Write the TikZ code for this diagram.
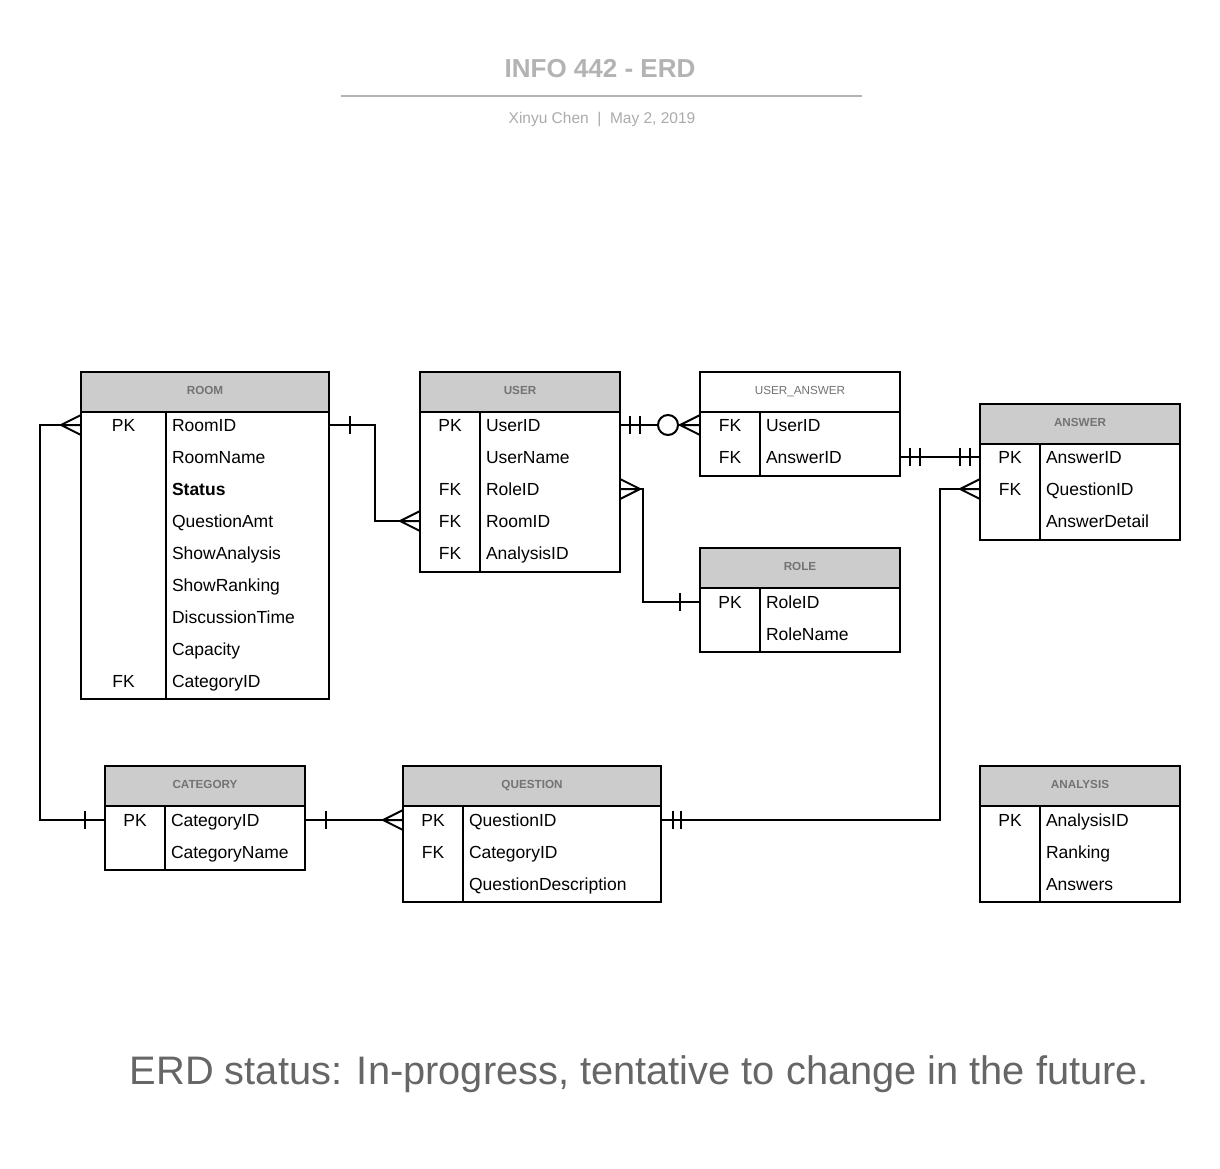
\documentclass[tikz,border=0pt]{standalone}
\usepackage{fontspec}
\setmainfont{Liberation Sans}
\usetikzlibrary{calc}
\definecolor{hdrgray}{HTML}{CCCCCC}
\definecolor{hdrtext}{HTML}{737373}
\definecolor{titlegray}{HTML}{B3B3B3}
\definecolor{subgray}{HTML}{ABABAB}
\definecolor{notegray}{HTML}{666666}
\newcommand\erdrow[7]{%
  \node[keytxt] (#1-k#2) at (#3,#5) {#6};
  \node[fldtxt] (#1-f#2) at (#4,#5) {#7};}
\begin{document}
\begin{tikzpicture}[x=1pt,y=-1pt,
  line width=2pt,
  hdr/.style={draw, fill=hdrgray, minimum height=40pt, anchor=north west, outer sep=0pt, inner sep=0pt, text=hdrtext, font=\fontsize{11.7}{12}\selectfont\bfseries, text height=8.4pt, text depth=3pt},
  hdrplain/.style={hdr, fill=white, font=\fontsize{11.7}{12}\selectfont},
  body/.style={draw, anchor=north west, outer sep=0pt, inner sep=0pt},
  keytxt/.style={inner sep=0pt, anchor=center, font=\fontsize{17.5}{20}\selectfont, text height=12.5pt, text depth=0pt},
  fldtxt/.style={keytxt, anchor=west},
  conn/.style={line width=2pt},
  crow/.pic={\draw[line width=2pt] (0,0) -- (20,-10) (0,0) -- (20,0) (0,0) -- (20,10);},
  bar/.pic={\draw[line width=2pt] (0,-9) -- (0,9);},
  ring/.pic={\draw[line width=2pt, fill=white] (0,0) circle [radius=10pt];}
]
\fill[white] (0,0) rectangle (1220,1169);
\useasboundingbox (0,0) rectangle (1220,1169);

% title
\node[font=\fontsize{26}{30}\selectfont\bfseries, text=titlegray, inner sep=0pt, text height=18.6pt, text depth=0pt] (title) at (600,68) {INFO 442 - ERD};
\draw[titlegray, line width=2pt] (341,96) -- (862,96);
\node[font=\fontsize{15.5}{18}\selectfont, text=subgray, inner sep=0pt, text height=11.1pt, text depth=0pt] (sub) at (602,118) {Xinyu Chen\ \ |\ \ May 2, 2019};

% ROOM
\node[hdr, minimum width=248pt] (room-h) at (81,372) {ROOM};
\node[body, minimum width=248pt, minimum height=287pt] (room) at (81,412) {};
\draw (166,412) -- (166,699);
\erdrow{room}{1}{123.5}{171}{425}{PK}{RoomID}
\erdrow{room}{2}{123.5}{171}{457}{}{RoomName}
\erdrow{room}{3}{123.5}{171}{489}{}{\bfseries Status}
\erdrow{room}{4}{123.5}{171}{521}{}{QuestionAmt}
\erdrow{room}{5}{123.5}{171}{553}{}{ShowAnalysis}
\erdrow{room}{6}{123.5}{171}{585}{}{ShowRanking}
\erdrow{room}{7}{123.5}{171}{617}{}{DiscussionTime}
\erdrow{room}{8}{123.5}{171}{649}{}{Capacity}
\erdrow{room}{9}{123.5}{171}{681}{FK}{CategoryID}

% USER
\node[hdr, minimum width=200pt] (user-h) at (420,372) {USER};
\node[body, minimum width=200pt, minimum height=160pt] (user) at (420,412) {};
\draw (480,412) -- (480,572);
\erdrow{user}{1}{450}{485}{425}{PK}{UserID}
\erdrow{user}{2}{450}{485}{457}{}{UserName}
\erdrow{user}{3}{450}{485}{489}{FK}{RoleID}
\erdrow{user}{4}{450}{485}{521}{FK}{RoomID}
\erdrow{user}{5}{450}{485}{553}{FK}{AnalysisID}

% USER_ANSWER
\node[hdrplain, minimum width=200pt] (ua-h) at (700,372) {USER\_ANSWER};
\node[body, minimum width=200pt, minimum height=64pt] (ua) at (700,412) {};
\draw (760,412) -- (760,476);
\erdrow{ua}{1}{730}{765}{425}{FK}{UserID}
\erdrow{ua}{2}{730}{765}{457}{FK}{AnswerID}

% ANSWER
\node[hdr, minimum width=200pt] (ans-h) at (980,404) {ANSWER};
\node[body, minimum width=200pt, minimum height=96pt] (ans) at (980,444) {};
\draw (1040,444) -- (1040,540);
\erdrow{ans}{1}{1010}{1045}{457}{PK}{AnswerID}
\erdrow{ans}{2}{1010}{1045}{489}{FK}{QuestionID}
\erdrow{ans}{3}{1010}{1045}{521}{}{AnswerDetail}

% ROLE
\node[hdr, minimum width=200pt] (role-h) at (700,548) {ROLE};
\node[body, minimum width=200pt, minimum height=64pt] (role) at (700,588) {};
\draw (760,588) -- (760,652);
\erdrow{role}{1}{730}{765}{602}{PK}{RoleID}
\erdrow{role}{2}{730}{765}{634}{}{RoleName}

% CATEGORY
\node[hdr, minimum width=200pt] (cat-h) at (105,766) {CATEGORY};
\node[body, minimum width=200pt, minimum height=64pt] (cat) at (105,806) {};
\draw (165,806) -- (165,870);
\erdrow{cat}{1}{135}{170}{820}{PK}{CategoryID}
\erdrow{cat}{2}{135}{170}{852}{}{CategoryName}

% QUESTION
\node[hdr, minimum width=258pt] (q-h) at (403,766) {QUESTION};
\node[body, minimum width=258pt, minimum height=96pt] (q) at (403,806) {};
\draw (463,806) -- (463,902);
\erdrow{q}{1}{433}{468}{820}{PK}{QuestionID}
\erdrow{q}{2}{433}{468}{852}{FK}{CategoryID}
\erdrow{q}{3}{433}{468}{884}{}{QuestionDescription}

% ANALYSIS
\node[hdr, minimum width=200pt] (an-h) at (980,766) {ANALYSIS};
\node[body, minimum width=200pt, minimum height=96pt] (an) at (980,806) {};
\draw (1040,806) -- (1040,902);
\erdrow{an}{1}{1010}{1045}{820}{PK}{AnalysisID}
\erdrow{an}{2}{1010}{1045}{852}{}{Ranking}
\erdrow{an}{3}{1010}{1045}{884}{}{Answers}

% connectors
% ROOM -> USER
\draw[conn] (room.east |- room-k1) -- ++(46,0) |- (user.west |- user-k4);
\pic at ($(room.east |- room-k1)+(21,0)$) {bar};
\pic at ($(user.west |- user-k4)+(-20,0)$) {crow};
% USER -> USER_ANSWER
\draw[conn] (user.east |- user-k1) -- (ua.west |- ua-k1);
\pic at ($(user.east |- user-k1)+(10,0)$) {bar};
\pic at ($(user.east |- user-k1)+(20,0)$) {bar};
\pic at ($(user.east |- user-k1)+(48,0)$) {ring};
\pic at ($(ua.west |- ua-k1)+(-20,0)$) {crow};
% USER_ANSWER -> ANSWER
\draw[conn] (ua.east |- ua-k2) -- (ans.west |- ans-k1);
\pic at ($(ua.east |- ua-k2)+(10,0)$) {bar};
\pic at ($(ua.east |- ua-k2)+(20,0)$) {bar};
\pic at ($(ans.west |- ans-k1)+(-10,0)$) {bar};
\pic at ($(ans.west |- ans-k1)+(-20,0)$) {bar};
% USER -> ROLE
\draw[conn] (user.east |- user-k3) -- ++(23,0) |- (role.west |- role-k1);
\pic[rotate=180] at ($(user.east |- user-k3)+(20,0)$) {crow};
\pic at ($(role.west |- role-k1)+(-20,0)$) {bar};
% ANSWER -> QUESTION
\draw[conn] (ans.west |- ans-k2) -- ++(-40,0) |- (q.east |- q-k1);
\pic at ($(ans.west |- ans-k2)+(-20,0)$) {crow};
\pic at ($(q.east |- q-k1)+(12,0)$) {bar};
\pic at ($(q.east |- q-k1)+(20,0)$) {bar};
% ROOM -> CATEGORY
\draw[conn] (room.west |- room-k1) -- ++(-41,0) |- (cat.west |- cat-k1);
\pic at ($(room.west |- room-k1)+(-20,0)$) {crow};
\pic at ($(cat.west |- cat-k1)+(-20,0)$) {bar};
% CATEGORY -> QUESTION
\draw[conn] (cat.east |- cat-k1) -- (q.west |- q-k1);
\pic at ($(cat.east |- cat-k1)+(21,0)$) {bar};
\pic at ($(q.west |- q-k1)+(-20,0)$) {crow};

% note
\node[font=\fontsize{39.8}{46}\selectfont, text=notegray, inner sep=0pt, text height=28.5pt, text depth=0pt] (note) at (639.5,1070) {ERD status: In-progress, tentative to change in the future.};
\end{tikzpicture}
\end{document}
